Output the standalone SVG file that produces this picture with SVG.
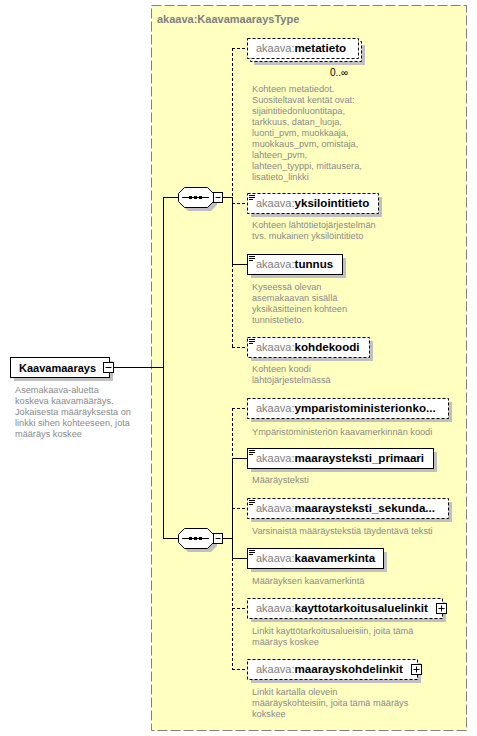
<svg xmlns="http://www.w3.org/2000/svg" width="477" height="736" viewBox="0 0 477 736">
<defs>
<style>
.bg{fill:#ffffff}
.type{fill:#FFFFC0;stroke:#808080;stroke-width:1;stroke-dasharray:10,3}
.tlabel{font-family:"Liberation Sans",Arial,sans-serif;font-size:11px;font-weight:bold;fill:#808080}
.box{fill:#ffffff;stroke:#000;stroke-width:1}
.opt{fill:#ffffff;stroke:#000;stroke-width:1;stroke-dasharray:3,2}
.sh{fill:#C0C0C0}
.ns{font-family:"Liberation Sans",Arial,sans-serif;font-size:11px;fill:#808080}
.nm{font-family:"Liberation Sans",Arial,sans-serif;font-size:11.6px;font-weight:bold;fill:#000}
.root{font-family:"Liberation Sans",Arial,sans-serif;font-size:11px;font-weight:bold;fill:#000}
.desc{font-family:"Liberation Sans",Arial,sans-serif;font-size:9.2px;fill:#8a8a8a}
.occ{font-family:"Liberation Sans",Arial,sans-serif;font-size:10px;fill:#000}
.ln{stroke:#000;stroke-width:1;fill:none}
.dl{stroke:#000;stroke-width:1;fill:none;stroke-dasharray:3,2}
.ic{stroke:#000;stroke-width:1;fill:none}
</style>
</defs>
<rect class="bg" x="0" y="0" width="477" height="736"/>
<rect class="type" x="151.5" y="5.5" width="315" height="725"/>
<text class="tlabel" x="157" y="23">akaava:KaavamaaraysType</text>

<g id="connectors">
<path class="ln" d="M113,367.5H163.5M163.5,197V538M163,197.5H178M163,538.5H178"/>
<path class="ln" d="M223,197.5H232.5"/>
<path class="dl" d="M232.5,48V197"/>
<path class="ln" d="M232.5,197V264"/>
<path class="dl" d="M232.5,264V347"/>
<path class="dl" d="M232,48.5H247M232,203.5H247M232,347.5H247"/>
<path class="ln" d="M232,264.5H247"/>
<path class="ln" d="M223,538.5H232.5"/>
<path class="dl" d="M232.5,408V458"/>
<path class="ln" d="M232.5,458V558"/>
<path class="dl" d="M232.5,558V669"/>
<path class="dl" d="M232,408.5H247M232,508.5H247M232,608.5H247M232,669.5H247"/>
<path class="ln" d="M232,458.5H247M232,558.5H247"/>
</g>

<g id="Kaavamaarays">
<rect class="sh" x="14" y="361" width="99" height="20"/>
<rect class="box" x="10.5" y="357.5" width="99" height="20"/>
<rect class="box" x="103.5" y="362.5" width="10" height="10"/>
<path class="ln" d="M105.5,367.5H111.5"/>
<text class="root" x="19" y="372">Kaavamaarays</text>
<text class="desc" x="15" y="393">Asemakaava-aluetta</text>
<text class="desc" x="15" y="404">koskeva kaavamääräys.</text>
<text class="desc" x="15" y="415">Jokaisesta määräyksesta on</text>
<text class="desc" x="15" y="426">linkki sihen kohteeseen, jota</text>
<text class="desc" x="15" y="437">määräys koskee</text>
</g>

<g id="seq1">
<polygon class="sh" points="188,191 211,191 217,197 217,205 211,211 188,211 182,205 182,197"/>
<polygon class="box" points="184.5,187.5 207.5,187.5 213.5,193.5 213.5,201.5 207.5,207.5 184.5,207.5 178.5,201.5 178.5,193.5"/>
<path class="ln" d="M182,197.5H209"/>
<rect x="189" y="196" width="3" height="3" fill="#000"/>
<rect x="194" y="196" width="3" height="3" fill="#000"/>
<rect x="199" y="196" width="3" height="3" fill="#000"/>
<rect class="box" x="213.5" y="192.5" width="9" height="10"/>
<path class="ln" d="M215.5,197.5H220.5"/>
</g>

<g id="seq2">
<polygon class="sh" points="188,532 211,532 217,538 217,546 211,552 188,552 182,546 182,538"/>
<polygon class="box" points="184.5,528.5 207.5,528.5 213.5,534.5 213.5,542.5 207.5,548.5 184.5,548.5 178.5,542.5 178.5,534.5"/>
<path class="ln" d="M182,538.5H209"/>
<rect x="189" y="537" width="3" height="3" fill="#000"/>
<rect x="194" y="537" width="3" height="3" fill="#000"/>
<rect x="199" y="537" width="3" height="3" fill="#000"/>
<rect class="box" x="213.5" y="533.5" width="9" height="10"/>
<path class="ln" d="M215.5,538.5H220.5"/>
</g>

<g id="metatieto">
<rect class="sh" x="254" y="45" width="111" height="20"/>
<rect class="opt" x="250.5" y="41.5" width="111" height="20"/>
<rect class="opt" x="247.5" y="38.5" width="111" height="20"/>
<text x="256" y="52"><tspan class="ns">akaava:</tspan><tspan class="nm">metatieto</tspan></text>
<text class="occ" x="330" y="76">0..∞</text>
<text class="desc" x="252" y="92">Kohteen metatiedot.</text>
<text class="desc" x="252" y="103">Suositeltavat kentät ovat:</text>
<text class="desc" x="252" y="114">sijaintitiedonluontitapa,</text>
<text class="desc" x="252" y="125">tarkkuus, datan_luoja,</text>
<text class="desc" x="252" y="136">luonti_pvm, muokkaaja,</text>
<text class="desc" x="252" y="147">muokkaus_pvm, omistaja,</text>
<text class="desc" x="252" y="158">lahteen_pvm,</text>
<text class="desc" x="252" y="169">lahteen_tyyppi, mittausera,</text>
<text class="desc" x="252" y="180">lisatieto_linkki</text>
</g>

<g id="yksilointitieto">
<rect class="sh" x="251" y="197" width="131" height="20"/>
<rect class="opt" x="247.5" y="193.5" width="131" height="20"/>
<path class="ic" d="M249,195.5H255M249,197.5H255M249,199.5H253"/>
<text x="256" y="207"><tspan class="ns">akaava:</tspan><tspan class="nm">yksilointitieto</tspan></text>
<text class="desc" x="252" y="228">Kohteen lähtötietojärjestelmän</text>
<text class="desc" x="252" y="239"> tvs. mukainen yksilöintitieto</text>
</g>

<g id="tunnus">
<rect class="sh" x="251" y="258" width="95" height="20"/>
<rect class="box" x="247.5" y="254.5" width="95" height="20"/>
<path class="ic" d="M249,256.5H255M249,258.5H255M249,260.5H253"/>
<text x="256" y="268"><tspan class="ns">akaava:</tspan><tspan class="nm">tunnus</tspan></text>
<text class="desc" x="252" y="290">Kyseessä olevan</text>
<text class="desc" x="252" y="301">asemakaavan sisällä</text>
<text class="desc" x="252" y="312">yksikäsitteinen kohteen</text>
<text class="desc" x="252" y="323">tunnistetieto.</text>
</g>

<g id="kohdekoodi">
<rect class="sh" x="251" y="341" width="122" height="20"/>
<rect class="opt" x="247.5" y="337.5" width="122" height="20"/>
<path class="ic" d="M249,339.5H255M249,341.5H255M249,343.5H253"/>
<text x="256" y="351"><tspan class="ns">akaava:</tspan><tspan class="nm">kohdekoodi</tspan></text>
<text class="desc" x="252" y="372">Kohteen koodi</text>
<text class="desc" x="252" y="383">lähtöjärjestelmässä</text>
</g>

<g id="ymparistoministerionkoodi">
<rect class="sh" x="251" y="402" width="201" height="20"/>
<rect class="opt" x="247.5" y="398.5" width="201" height="20"/>
<text x="256" y="412"><tspan class="ns">akaava:</tspan><tspan class="nm">ymparistoministerionko...</tspan></text>
<text class="desc" x="252" y="435">Ympäristöministeriön kaavamerkinnän koodi</text>
</g>

<g id="maaraysteksti_primaari">
<rect class="sh" x="251" y="452" width="186" height="20"/>
<rect class="box" x="247.5" y="448.5" width="186" height="20"/>
<path class="ic" d="M249,450.5H255M249,452.5H255M249,454.5H253"/>
<text x="256" y="462"><tspan class="ns">akaava:</tspan><tspan class="nm">maaraysteksti_primaari</tspan></text>
<text class="desc" x="252" y="483">Määräysteksti</text>
</g>

<g id="maaraysteksti_sekundaari">
<rect class="sh" x="251" y="502" width="201" height="20"/>
<rect class="opt" x="247.5" y="498.5" width="201" height="20"/>
<path class="ic" d="M249,500.5H255M249,502.5H255M249,504.5H253"/>
<text x="256" y="512"><tspan class="ns">akaava:</tspan><tspan class="nm">maaraysteksti_sekunda...</tspan></text>
<text class="desc" x="252" y="534">Varsinaistä määräystekstiä täydentävä teksti</text>
</g>

<g id="kaavamerkinta">
<rect class="sh" x="251" y="552" width="136" height="20"/>
<rect class="box" x="247.5" y="548.5" width="136" height="20"/>
<path class="ic" d="M249,550.5H255M249,552.5H255M249,554.5H253"/>
<text x="256" y="562"><tspan class="ns">akaava:</tspan><tspan class="nm">kaavamerkinta</tspan></text>
<text class="desc" x="252" y="584">Määräyksen kaavamerkintä</text>
</g>

<g id="kayttotarkoitusaluelinkit">
<rect class="sh" x="251" y="602" width="195" height="20"/>
<rect class="opt" x="247.5" y="598.5" width="195" height="20"/>
<rect class="box" x="436.5" y="603.5" width="10" height="10"/>
<path class="ln" d="M438.5,608.5H444.5M441.5,605.5V611.5"/>
<text x="256" y="612"><tspan class="ns">akaava:</tspan><tspan class="nm">kayttotarkoitusaluelinkit</tspan></text>
<text class="desc" x="252" y="634">Linkit kayttötarkoitusalueisiin, joita tämä</text>
<text class="desc" x="252" y="645">määräys koskee</text>
</g>

<g id="maarayskohdelinkit">
<rect class="sh" x="251" y="663" width="170" height="20"/>
<rect class="opt" x="247.5" y="659.5" width="170" height="20"/>
<rect class="box" x="411.5" y="664.5" width="10" height="10"/>
<path class="ln" d="M413.5,669.5H419.5M416.5,666.5V672.5"/>
<text x="256" y="673"><tspan class="ns">akaava:</tspan><tspan class="nm">maarayskohdelinkit</tspan></text>
<text class="desc" x="252" y="695">Linkit kartalla olevein</text>
<text class="desc" x="252" y="706">määräyskohteisiin, joita tämä määräys</text>
<text class="desc" x="252" y="717">kokskee</text>
</g>
</svg>
